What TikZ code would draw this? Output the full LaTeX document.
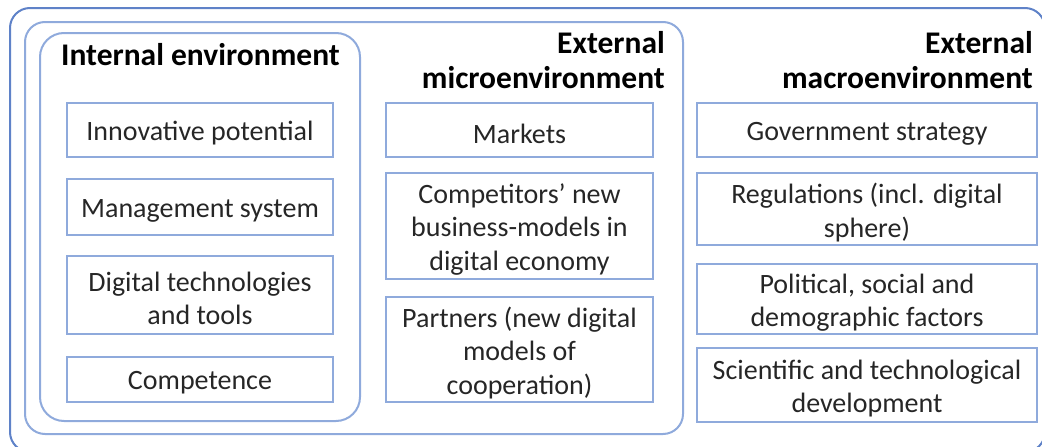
\documentclass[tikz,border=0pt]{standalone}
\usepackage{fontspec}
\setmainfont{Carlito}
\begin{document}
\begin{tikzpicture}[x=1pt,y=-1pt,
  outerline/.style={draw={rgb,255:red,95;green,130;blue,200}, line width=2pt},
  groupline/.style={draw={rgb,255:red,143;green,170;blue,220}, line width=2pt},
  itembox/.style={groupline, rectangle, inner sep=0pt},
  itemtext/.style={inner sep=0pt, align=center, text={rgb,255:red,38;green,38;blue,38},
    font=\fontsize{28}{33.5}\selectfont, yshift=-3.5pt},
  titletext/.style={inner sep=0pt, font=\fontsize{31.5}{35}\selectfont\bfseries, text=black}
]
\useasboundingbox (0,0) rectangle (1042,447);
\draw[outerline, rounded corners=20pt] (10,8) rectangle (1045,452);
\draw[groupline, rounded corners=20pt] (25,22) rectangle (683,434);
\draw[groupline, rounded corners=24pt] (40,33) rectangle (360,421);

\node[titletext, anchor=base west] (intT) at (61,65) {Internal environment};
\node[titletext, anchor=base east] (micT1) at (665,53) {External};
\node[titletext, anchor=base east] (micT2) at (665,88) {microenvironment};
\node[titletext, anchor=base east] (macT1) at (1033,53) {External};
\node[titletext, anchor=base east] (macT2) at (1033,88) {macroenvironment};

\node[itembox, minimum width=266pt, minimum height=54pt,
  label={[itemtext]center:Innovative potential}] (i1) at (200,130) {};
\node[itembox, minimum width=266pt, minimum height=56pt,
  label={[itemtext]center:Management system}] (i2) at (200,207) {};
\node[itembox, minimum width=266pt, minimum height=78pt,
  label={[itemtext]center:{Digital technologies\\and tools}}] (i3) at (200,295) {};
\node[itembox, minimum width=266pt, minimum height=45pt,
  label={[itemtext]center:Competence}] (i4) at (200,379.5) {};

\node[itembox, minimum width=267pt, minimum height=54pt,
  label={[itemtext]center:Markets}] (m1) at (519.5,130) {};
\node[itembox, minimum width=267pt, minimum height=106pt,
  label={[itemtext]center:{Competitors’ new\\business-models in\\digital economy}}] (m2) at (519.5,226) {};
\node[itembox, minimum width=267pt, minimum height=105pt,
  label={[itemtext]center:{Partners (new digital\\models of\\cooperation)}}] (m3) at (519.5,349.5) {};

\node[itembox, minimum width=340pt, minimum height=54pt,
  label={[itemtext]center:Government strategy}] (a1) at (867,130) {};
\node[itembox, minimum width=340pt, minimum height=72pt,
  label={[itemtext]center:{Regulations (incl. digital\\sphere)}}] (a2) at (867,209) {};
\node[itembox, minimum width=340pt, minimum height=70pt,
  label={[itemtext]center:{Political, social and\\demographic factors}}] (a3) at (867,299) {};
\node[itembox, minimum width=340pt, minimum height=74pt,
  label={[itemtext]center:{Scientific and technological\\development}}] (a4) at (867,385) {};
\end{tikzpicture}
\end{document}
